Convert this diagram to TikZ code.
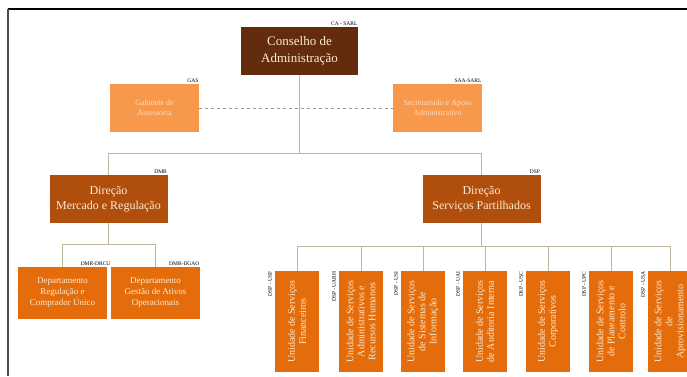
\documentclass[tikz,border=0pt]{standalone}
\usepackage{fontspec}
\setmainfont{Liberation Serif}
\usetikzlibrary{calc}

\definecolor{cabrown}{RGB}{99,44,12}
\definecolor{dirbrown}{RGB}{176,78,14}
\definecolor{lightorange}{RGB}{247,152,74}
\definecolor{unitorange}{RGB}{228,108,10}
\definecolor{cream}{RGB}{250,236,214}
\definecolor{paletext}{RGB}{255,222,192}
\definecolor{linkgray}{RGB}{192,182,160}

\tikzset{
  box/.style={align=center, inner sep=1pt, text=cream},
  cabox/.style={box, fill=cabrown, minimum width=117pt, minimum height=48pt, font=\fontsize{13}{17}\selectfont},
  assistbox/.style={box, fill=lightorange, text=paletext, minimum width=89pt, minimum height=48pt, font=\fontsize{8}{10}\selectfont},
  dirbox/.style={box, fill=dirbrown, minimum width=118pt, minimum height=48pt, font=\fontsize{12}{15}\selectfont},
  deptbox/.style={box, fill=unitorange, minimum width=89pt, minimum height=52pt, font=\fontsize{9}{11}\selectfont},
  unitbox/.style={box, fill=unitorange, rotate=90, minimum width=101pt, minimum height=44pt, font=\fontsize{10}{11}\selectfont},
  tag/.style={inner sep=0.6pt, anchor=south east, font=\fontsize{5.5}{5.5}\selectfont},
  link/.style={draw=linkgray, line width=0.6pt},
  dashlink/.style={link, draw=gray!80, dashed},
}

\begin{document}
\begin{tikzpicture}[x=1pt, y=-1pt]
		%%%%% START %%%%%
		\useasboundingbox (0,0) rectangle (687,376);
		
		\draw[line width=1.8pt] (8,9) -- (687,9);
		\draw[line width=1.8pt, color=black!70] (8,9) -- (8,376);
		
		\coordinate (bus1) at (0,153);
		\coordinate (bus2) at (0,244);
		\coordinate (bus3) at (0,246);
		
		\node[cabox] (ca) at (299.5,51) {Conselho de\\Administração};
		\node[tag] (ca-tag) at (ca.north east) {CA - SARL};
		
		\node[assistbox] (gas) at (154.5,108) {Gabinete de\\Assessoria};
		\node[tag] (gas-tag) at (gas.north east) {GAS};
		\node[assistbox] (saa) at (437.5,108) {Secretariado e Apoio\\Administrativo};
		\node[tag] (saa-tag) at (saa.north east) {SAA-SARL};
		
		\node[dirbox] (dmr) at (108.5,199) {Direção\\Mercado e Regulação};
		\node[tag] (dmr-tag) at (dmr.north east) {DMR};
		\node[dirbox] (dsp) at (481.5,199) {Direção\\Serviços Partilhados};
		\node[tag] (dsp-tag) at (dsp.north east) {DSP};
		
		\node[deptbox] (drcu) at (62.5,293) {Departamento\\Regulação e\\Comprador Único};
		\node[tag] (drcu-tag) at ($(drcu.north east)+(4,0)$) {DMR-DRCU};
		\node[deptbox] (dgao) at (155.5,293) {Departamento\\Gestão de Ativos\\Operacionais};
		\node[tag] (dgao-tag) at (dgao.north east) {DMR-DGAO};
		
		% units of the shared services
		\foreach \x/\code/\name [count=\i] in {
				297/USF/{Unidade de Serviços\\Financeiros},
				361/UARH/{Unidade de Serviços\\Administrativos e\\Recursos Humanos},
				423/USI/{Unidade de Serviços\\de Sistemas de\\Informação},
				485/UAI/{Unidade de Serviços\\de Auditoria Interna},
				548/USC/{Unidade de Serviços\\Corporativos},
				611/UPC/{Unidade de Serviços\\de Planeamento e\\Controlo},
				670/USA/{Unidade de Serviços\\de\\Aprovisionamento}} {
			\node[unitbox] (u\i) at (\x,321.5) {\name};
			\node[tag, rotate=90] (u\i-tag) at ($(u\i.north east)+(-2,0)$) {DSP - \code};
			\draw[link] (u\i.east) -- (u\i.east |- bus3);
		}
		
		% connectors
		\draw[link] (ca.south) -- (ca.south |- bus1);
		\draw[link] (dmr.north) -- (dmr.north |- bus1) -- (dsp.north |- bus1) -- (dsp.north);
		\draw[dashlink] (gas.east) -- (saa.west);
		
		\draw[link] (dmr.south) -- (dmr.south |- bus2);
		\draw[link] (drcu.north) -- (drcu.north |- bus2) -- (dgao.north |- bus2) -- (dgao.north);
		
		\draw[link] (dsp.south) -- (dsp.south |- bus3);
		\draw[link] (u1.east |- bus3) -- (u7.east |- bus3);
		
		%%%%% END %%%%%
	\end{tikzpicture}
\end{document}
